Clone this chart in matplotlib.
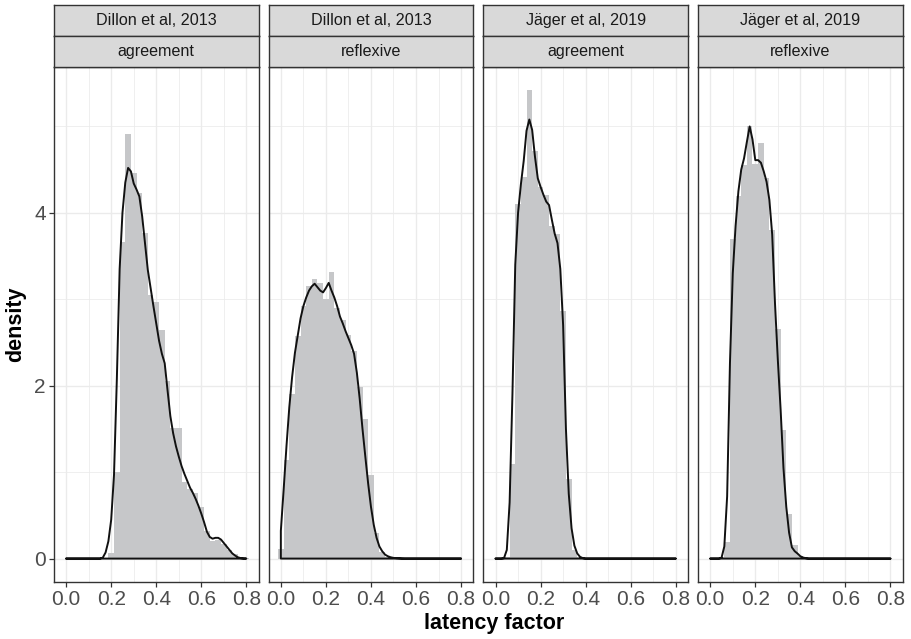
import numpy as np
import matplotlib
matplotlib.use("Agg")
import matplotlib.pyplot as plt

plt.rcParams['font.family'] = ['Liberation Sans', 'DejaVu Sans']

# ---------------- data ----------------
studies = ["Dillon et al, 2013", "Dillon et al, 2013", "Jäger et al, 2019", "Jäger et al, 2019"]
conditions = ["agreement", "reflexive", "agreement", "reflexive"]

bin_width = 0.025
# histogram densities for bins centred at 0.000, 0.025, ..., 0.800
hist_dillon_agr = [0, 0, 0, 0, 0, 0, 0, 0, 0.07, 1.00, 3.66, 4.91, 4.46, 4.23, 3.77, 3.05,
                   2.97, 2.65, 2.06, 1.51, 1.51, 0.89, 0.80, 0.76, 0.60, 0.32, 0.20, 0.21,
                   0.17, 0.10, 0.05, 0.015, 0.003]
hist_dillon_refl = [0.11, 1.14, 1.90, 2.57, 2.92, 3.15, 3.23, 3.19, 3.00, 3.32, 2.90, 2.76,
                    2.59, 2.40, 1.99, 1.61, 0.97, 0.30, 0.08, 0.02, 0, 0, 0, 0, 0, 0, 0, 0,
                    0, 0, 0, 0, 0]
hist_jaeger_agr = [0, 0, 0.02, 1.10, 4.10, 4.42, 5.42, 4.72, 4.30, 4.21, 3.85, 3.76, 2.87,
                   0.92, 0.10, 0.02, 0, 0, 0, 0, 0, 0, 0, 0, 0, 0, 0, 0, 0, 0, 0, 0, 0]
hist_jaeger_refl = [0, 0, 0.02, 0.19, 3.70, 4.19, 4.55, 5.00, 4.57, 4.81, 4.40, 3.80, 2.66,
                    1.49, 0.52, 0.16, 0.03, 0, 0, 0, 0, 0, 0, 0, 0, 0, 0, 0, 0, 0, 0, 0, 0]

# density curves evaluated at 0.0000, 0.0125, ..., 0.8000
dens_x = [round(i * 0.0125, 4) for i in range(65)]
dens_dillon_agr = [0, 0, 0, 0, 0, 0, 0, 0, 0, 0, 0, 0, 0, 0.01, 0.07, 0.20, 0.45, 0.97,
                   2.07, 3.35, 4.00, 4.35, 4.52, 4.48, 4.34, 4.27, 4.19, 3.96, 3.65, 3.34,
                   3.13, 2.92, 2.72, 2.52, 2.37, 2.26, 1.95, 1.65, 1.45, 1.30, 1.18, 1.07,
                   0.98, 0.90, 0.82, 0.76, 0.69, 0.61, 0.52, 0.42, 0.31, 0.25, 0.23, 0.24,
                   0.24, 0.22, 0.18, 0.14, 0.10, 0.06, 0.035, 0.015, 0.005, 0.001, 0]
dens_dillon_refl = [0.32, 0.80, 1.30, 1.75, 2.10, 2.38, 2.58, 2.78, 2.92, 3.02, 3.10, 3.15,
                    3.18, 3.14, 3.10, 3.08, 3.13, 3.19, 3.10, 3.02, 2.92, 2.80, 2.72, 2.63,
                    2.55, 2.47, 2.37, 2.15, 1.85, 1.50, 1.18, 0.87, 0.60, 0.39, 0.24, 0.14,
                    0.085, 0.046, 0.027, 0.015, 0.008, 0.005, 0.003, 0.001, 0, 0, 0, 0, 0,
                    0, 0, 0, 0, 0, 0, 0, 0, 0, 0, 0, 0, 0, 0, 0, 0]
dens_jaeger_agr = [0, 0, 0, 0.005, 0.10, 0.65, 1.90, 3.40, 4.00, 4.33, 4.60, 4.95, 5.08,
                   4.96, 4.65, 4.40, 4.30, 4.21, 4.13, 4.09, 3.92, 3.76, 3.65, 3.35, 2.70,
                   1.50, 0.75, 0.35, 0.15, 0.06, 0.02, 0.005, 0, 0, 0, 0, 0, 0, 0, 0, 0,
                   0, 0, 0, 0, 0, 0, 0, 0, 0, 0, 0, 0, 0, 0, 0, 0, 0, 0, 0, 0, 0, 0, 0, 0]
dens_jaeger_refl = [0, 0, 0, 0, 0.008, 0.14, 0.72, 2.26, 3.30, 3.85, 4.25, 4.50, 4.63,
                    4.82, 5.00, 4.85, 4.61, 4.61, 4.58, 4.48, 4.36, 4.15, 3.75, 2.95, 2.30,
                    1.72, 1.05, 0.60, 0.30, 0.13, 0.085, 0.058, 0.027, 0.012, 0.004, 0, 0,
                    0, 0, 0, 0, 0, 0, 0, 0, 0, 0, 0, 0, 0, 0, 0, 0, 0, 0, 0, 0, 0, 0, 0,
                    0, 0, 0, 0, 0]

hists = [hist_dillon_agr, hist_dillon_refl, hist_jaeger_agr, hist_jaeger_refl]
denss = [dens_dillon_agr, dens_dillon_refl, dens_jaeger_agr, dens_jaeger_refl]

x_ticks = [0.0, 0.2, 0.4, 0.6, 0.8]
x_tick_labels = ["0.0", "0.2", "0.4", "0.6", "0.8"]
y_ticks = [0, 2, 4]
y_tick_labels = ["0", "2", "4"]

# ---------------- figure ----------------
W, H = 911, 639
fig = plt.figure(figsize=(W / 100, H / 100), dpi=100)
fig.patch.set_facecolor("white")

def fx(px):
    return px / W

def fy(py):
    return 1 - py / H

panel_left0 = 54
panel_step = 214.7
panel_w = 204.5
plot_top = 66.7
plot_bot = 582
strip_top = 4.7
strip_h = 31.0

bar_color = "#C6C7C9"
frame_color = "#333333"
grid_color = "#EBEBEB"

for i in range(4):
    left = panel_left0 + i * panel_step
    ax = fig.add_axes([fx(left), fy(plot_bot), panel_w / W, (plot_bot - plot_top) / H])
    ax.set_facecolor("white")
    ax.set_axisbelow(True)

    centers = [k * bin_width for k in range(len(hists[i]))]
    ax.bar(centers, hists[i], width=bin_width, color=bar_color, linewidth=0, zorder=2)

    xs = np.array(dens_x)
    ys = np.array(denss[i])
    px = np.r_[xs[0], xs, xs[-1]]
    py = np.r_[0, ys, 0]
    ax.fill(px, py, facecolor="none", edgecolor="#111111", linewidth=1.4, zorder=3,
            joinstyle="round")

    ax.set_xlim(-0.0539, 0.8539)
    ax.set_ylim(-0.271, 5.691)

    ax.set_xticks(x_ticks)
    ax.set_xticks([0.1, 0.3, 0.5, 0.7], minor=True)
    ax.set_yticks(y_ticks)
    ax.set_yticks([1, 3, 5], minor=True)
    ax.set_xticklabels(x_tick_labels)

    ax.grid(True, which="major", color=grid_color, linewidth=1.0, zorder=0)
    ax.grid(True, which="minor", color=grid_color, linewidth=0.55, zorder=0)

    ax.tick_params(axis="both", which="major", colors=frame_color, labelcolor="#4D4D4D",
                   labelsize=15, length=3.5, width=0.9, pad=2.5)
    ax.tick_params(axis="both", which="minor", length=0)
    if i == 0:
        ax.set_yticklabels(y_tick_labels)
    else:
        ax.set_yticklabels([])
        ax.tick_params(axis="y", which="major", length=0)
    for s in ax.spines.values():
        s.set_color(frame_color)
        s.set_linewidth(1.0)

    # strips
    for j, label in enumerate([studies[i], conditions[i]]):
        top = strip_top + j * strip_h
        sax = fig.add_axes([fx(left), fy(top + strip_h), panel_w / W, strip_h / H])
        sax.set_facecolor("#D9D9D9")
        sax.set_xticks([])
        sax.set_yticks([])
        for s in sax.spines.values():
            s.set_color(frame_color)
            s.set_linewidth(1.0)
        sax.text(0.5, 0.5, label, ha="center", va="center", fontsize=11.6,
                 color="#1A1A1A", transform=sax.transAxes)

fig.text(fx(494), fy(623), "latency factor", ha="center", va="center",
         fontsize=15.5, fontweight="bold", color="black")
fig.text(fx(16), fy(324), "density", ha="center", va="center", rotation=90,
         fontsize=15.5, fontweight="bold", color="black")

fig.savefig("out.png", dpi=100, facecolor="white")
